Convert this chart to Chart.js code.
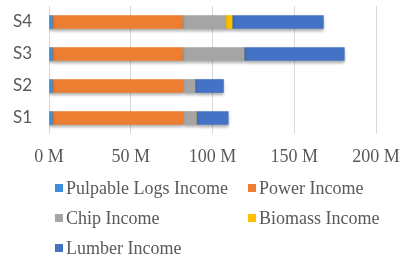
<!DOCTYPE html>
<html>
<head>
<meta charset="utf-8">
<script src="https://cdn.jsdelivr.net/npm/chart.js@4/dist/chart.umd.min.js"></script>
<style>
  html, body { margin: 0; padding: 0; background: #fff; }
  #wrap { position: relative; width: 406px; height: 260px; overflow: hidden; }
  #chart { position: absolute; left: 0; top: 0; }
  #legend {
    position: absolute; left: 55px; top: 176px;
    display: grid; grid-template-columns: 193px auto; row-gap: 6px;
    font-family: 'Liberation Serif', serif; font-size: 18px; color: #595959;
  }
  .item { display: flex; align-items: center; height: 24px; white-space: nowrap; }
  .box { width: 8px; height: 8px; margin-right: 3px; }
</style>
</head>
<body>
<div id="wrap">
  <canvas id="chart" width="406" height="260"></canvas>
  <div id="legend"></div>
</div>
<script>
// Data (millions)
const categories = ['S1', 'S2', 'S3', 'S4'];
const seriesNames = ['Pulpable Logs Income', 'Power Income', 'Chip Income', 'Biomass Income', 'Lumber Income'];
const pulpableLogs = [2, 2, 2, 2];
const power = [80, 80, 79.5, 79.5];
const chip = [8, 7.2, 37.7, 26.5];
const biomass = [0, 0, 0, 4];
const lumber = [19.6, 17.5, 61.4, 55.8];
const xTicks = [0, 50, 100, 150, 200];

const colors = ['#3f8fde', '#ed7d31', '#a5a5a5', '#ffc000', '#4472c4'];
const values = [pulpableLogs, power, chip, biomass, lumber];

// soft drop shadow like the Excel original
const shadowPlugin = {
    id: 'barShadow',
    beforeDatasetsDraw(chart) {
        const ctx = chart.ctx;
        ctx.save();
        ctx.shadowColor = 'rgba(0,0,0,0.35)';
        ctx.shadowBlur = 3;
        ctx.shadowOffsetX = 0;
        ctx.shadowOffsetY = 2;
    },
    afterDatasetsDraw(chart) {
        chart.ctx.restore();
    }
};

const chart = new Chart(document.getElementById('chart').getContext('2d'), {
    type: 'bar',
    data: {
        labels: categories,
        datasets: seriesNames.map((name, i) => ({
            label: name,
            data: values[i],
            backgroundColor: colors[i],
            borderWidth: 0,
            barThickness: 13
        }))
    },
    options: {
        indexAxis: 'y',
        responsive: false,
        animation: false,
        layout: { padding: { left: 0, right: 30, top: 6, bottom: 96 } },
        plugins: {
            legend: { display: false },
            tooltip: { enabled: false }
        },
        scales: {
            x: {
                stacked: true,
                min: 0,
                max: 200,
                afterBuildTicks(scale) {
                    scale.ticks = xTicks.map(v => ({ value: v }));
                },
                afterFit(scale) {
                    scale.height = 30;
                    scale.paddingLeft = 0;
                    scale.paddingRight = 0;
                },
                grid: { color: '#d9d9d9', drawTicks: false },
                border: { display: false },
                ticks: {
                    padding: 12,
                    color: '#595959',
                    font: { family: "'Liberation Serif', serif", size: 18 },
                    callback: v => v + ' M'
                }
            },
            y: {
                stacked: true,
                reverse: true,
                afterFit(scale) {
                    scale.width = 49;
                    scale.paddingTop = 0;
                    scale.paddingBottom = 0;
                },
                grid: { display: false, drawTicks: false },
                border: { display: false },
                ticks: {
                    padding: 17,
                    color: '#595959',
                    font: { family: 'Lato, sans-serif', size: 17 }
                }
            }
        }
    },
    plugins: [shadowPlugin]
});

// HTML legend in the two-column Excel layout
const legendEl = document.getElementById('legend');
chart.data.datasets.forEach(ds => {
    const item = document.createElement('div');
    item.className = 'item';
    item.innerHTML = `<span class="box" style="background:${ds.backgroundColor}"></span><span>${ds.label}</span>`;
    legendEl.appendChild(item);
});
</script>
</body>
</html>
